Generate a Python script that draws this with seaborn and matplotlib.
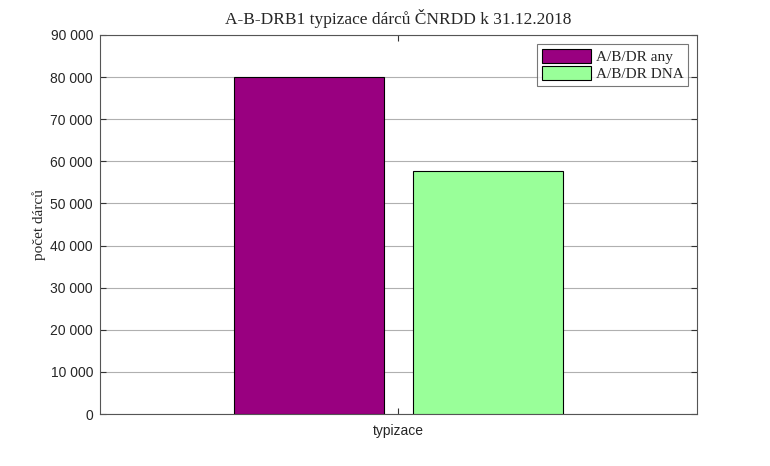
import matplotlib
matplotlib.use("Agg")
import matplotlib.pyplot as plt
import seaborn as sns
import pandas as pd
from matplotlib.ticker import FuncFormatter, MultipleLocator

categories = ["typizace"]
series = ["A/B/DR any", "A/B/DR DNA"]
values = [80000, 57700]
colors = ["#990080", "#99FF99"]

df = pd.DataFrame({"cat": categories * len(series), "series": series, "value": values})

sns.set_style("white")
plt.rcParams['font.family'] = ['Liberation Sans', 'DejaVu Sans']

fig = plt.figure(figsize=(7.7, 4.66), dpi=100)
ax = fig.add_axes([100/770, 1-414/466, 597/770, 379/466])

sns.barplot(data=df, x="cat", y="value", hue="series", palette=colors,
            width=0.6, gap=1/6, edgecolor="black", linewidth=0.8, ax=ax,
            saturation=1, legend=True, zorder=3)

ax.set_xlim(-0.5, 0.5)
ax.set_ylim(0, 90000)
ax.yaxis.set_major_locator(MultipleLocator(10000))
ax.yaxis.set_major_formatter(FuncFormatter(lambda v, p: f"{int(v):,}".replace(",", " ")))
ax.grid(axis="y", color="#b0b0b0", linewidth=0.8, zorder=0)
ax.set_axisbelow(True)
for s in ax.spines.values():
    s.set_color("#555555")
    s.set_linewidth(0.8)
ax.tick_params(axis="both", direction="in", length=4, color="#333333", labelsize=10, labelcolor="#262626")
ax.tick_params(axis="y", right=True, left=True, pad=5)
ax.tick_params(axis="x", top=True, bottom=True, pad=7)
ax.set_xlabel("")
ax.set_ylabel("počet dárců", family=["Liberation Serif", "DejaVu Serif"], fontsize=11, labelpad=3)
ax.set_title("A-B-DRB1 typizace dárců ČNRDD k 31.12.2018", family=["Liberation Serif", "DejaVu Serif"], fontsize=12.5, pad=8)

leg = ax.legend(loc="upper right", prop={"family": ["Liberation Serif", "DejaVu Serif"], "size": 11},
                frameon=True, fancybox=False, edgecolor="#555555", borderpad=0.3, labelspacing=0.1,
                handlelength=3.2, handleheight=1.1, handletextpad=0.3, borderaxespad=0.6)
leg.get_frame().set_linewidth(0.8)

fig.savefig("out.png", dpi=100)
